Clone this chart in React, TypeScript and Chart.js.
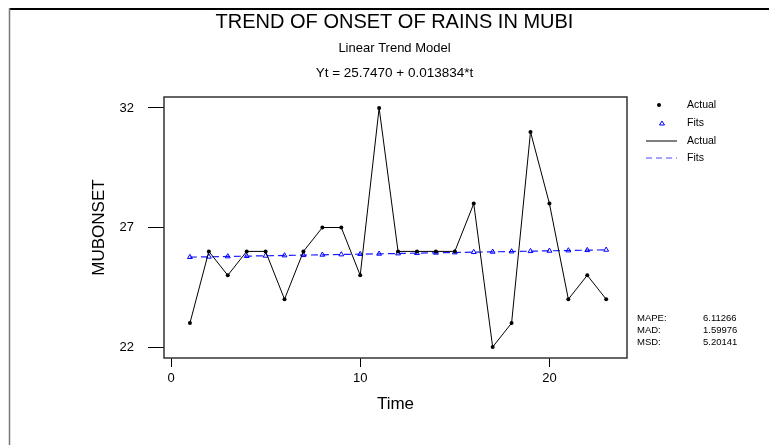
import React, { useEffect, useRef } from "react";
import { Chart, registerables } from "chart.js";

Chart.register(...registerables);

const timeIndex = [1, 2, 3, 4, 5, 6, 7, 8, 9, 10, 11, 12, 13, 14, 15, 16, 17, 18, 19, 20, 21, 22, 23];
const actualOnset = [23, 26, 25, 26, 26, 24, 26, 27, 27, 25, 32, 26, 26, 26, 26, 28, 22, 23, 31, 28, 24, 25, 24];
const fitsOnset = [
  25.7608, 25.7747, 25.7885, 25.8023, 25.8162, 25.83, 25.8438, 25.8577, 25.8715, 25.8853, 25.8992,
  25.913, 25.9268, 25.9407, 25.9545, 25.9683, 25.9822, 25.996, 26.0098, 26.0237, 26.0375, 26.0513, 26.0652,
];
const xTicks = [0, 10, 20];
const yTicks = [22, 27, 32];
const titleText = "TREND OF ONSET OF RAINS IN MUBI";
const subtitleText = "Linear Trend Model";
const equationText = "Yt = 25.7470 + 0.013834*t";
const xTitle = "Time";
const yTitle = "MUBONSET";
const accuracyLabels = ["MAPE:", "MAD:", "MSD:"];
const accuracyValues = ["6.11266", "1.59976", "5.20141"];

const FONT = "'Liberation Sans', Arial, Helvetica, sans-serif";

const decor = {
  id: "decor",
  beforeDraw(chart: any) {
    const ctx = chart.ctx;
    ctx.save();
    ctx.fillStyle = "#fff";
    ctx.fillRect(0, 0, chart.width, chart.height);
    ctx.restore();
  },
  afterDraw(chart: any) {
    const ctx = chart.ctx;
    const a = chart.chartArea;
    ctx.save();
    // outer border
    ctx.strokeStyle = "#000";
    ctx.lineWidth = 2;
    ctx.beginPath();
    ctx.moveTo(9, 9);
    ctx.lineTo(chart.width, 9);
    ctx.stroke();
    ctx.strokeStyle = "#777";
    ctx.lineWidth = 1.5;
    ctx.beginPath();
    ctx.moveTo(9.5, 8);
    ctx.lineTo(9.5, chart.height);
    ctx.stroke();

    // frame
    ctx.strokeStyle = "#333";
    ctx.lineWidth = 1.5;
    ctx.strokeRect(a.left, a.top, a.right - a.left, a.bottom - a.top);

    const cx = (a.left + a.right) / 2 - 1;
    ctx.fillStyle = "#000";
    ctx.textAlign = "center";
    ctx.textBaseline = "alphabetic";
    ctx.font = `20px ${FONT}`;
    ctx.fillText(titleText, cx, 28);
    ctx.font = `13px ${FONT}`;
    ctx.fillText(subtitleText, cx, 52);
    ctx.font = `13.5px ${FONT}`;
    ctx.fillText(equationText, cx, 77);

    // axis titles
    ctx.font = `17px ${FONT}`;
    ctx.textBaseline = "middle";
    ctx.fillText(xTitle, cx + 1, 404);
    ctx.save();
    ctx.translate(99, (a.top + a.bottom) / 2);
    ctx.rotate(-Math.PI / 2);
    ctx.fillText(yTitle, 0, 0);
    ctx.restore();

    // legend
    ctx.textAlign = "left";
    ctx.font = `10.5px ${FONT}`;
    ctx.fillStyle = "#000";
    ctx.beginPath();
    ctx.arc(659, 105, 2, 0, Math.PI * 2);
    ctx.fill();
    ctx.fillText("Actual", 687, 105);
    ctx.strokeStyle = "#0000ff";
    ctx.lineWidth = 1;
    ctx.beginPath();
    ctx.moveTo(662, 121);
    ctx.lineTo(664.5, 125);
    ctx.lineTo(659.5, 125);
    ctx.closePath();
    ctx.stroke();
    ctx.fillText("Fits", 687, 123);
    ctx.strokeStyle = "#000";
    ctx.beginPath();
    ctx.moveTo(646, 141);
    ctx.lineTo(677, 141);
    ctx.stroke();
    ctx.fillText("Actual", 687, 141);
    ctx.strokeStyle = "#4a4aff";
    ctx.setLineDash([6, 4]);
    ctx.beginPath();
    ctx.moveTo(646, 158);
    ctx.lineTo(677, 158);
    ctx.stroke();
    ctx.setLineDash([]);
    ctx.fillText("Fits", 687, 158);

    // accuracy measures
    ctx.font = `9.5px ${FONT}`;
    accuracyLabels.forEach((lab, i) => {
      const y = 318 + i * 12;
      ctx.fillText(lab, 637, y);
      ctx.fillText(accuracyValues[i], 703, y);
    });
    ctx.restore();
  },
};

export default function App() {
  const ref = useRef<HTMLCanvasElement>(null);
  useEffect(() => {
    if (!ref.current) return;
    const chart = new Chart(ref.current, {
      type: "line",
      data: {
        datasets: [
          {
            label: "Actual",
            data: timeIndex.map((t, i) => ({ x: t, y: actualOnset[i] })),
            borderColor: "#000",
            backgroundColor: "#000",
            borderWidth: 1,
            pointStyle: "circle",
            pointRadius: 2,
            pointBorderWidth: 0,
            tension: 0,
          },
          {
            label: "Fits",
            data: timeIndex.map((t, i) => ({ x: t, y: fitsOnset[i] })),
            borderColor: "#1a1aff",
            backgroundColor: "rgba(0,0,0,0)",
            borderWidth: 1.2,
            borderDash: [7, 4],
            pointStyle: "triangle",
            pointRadius: 2.8,
            pointBorderColor: "#0000ff",
            pointBorderWidth: 1,
            tension: 0,
          },
        ],
      },
      options: {
        responsive: false,
        animation: false,
        devicePixelRatio: 1,
        layout: { padding: { top: 97, right: 142, left: 0, bottom: 0 } },
        plugins: { legend: { display: false }, title: { display: false }, tooltip: { enabled: false } },
        scales: {
          x: {
            type: "linear",
            min: -0.37,
            max: 24.1,
            afterBuildTicks: (s: any) => {
              s.ticks = xTicks.map((v) => ({ value: v }));
            },
            afterFit: (s: any) => {
              s.height = 87;
            },
            grid: { drawOnChartArea: false, drawTicks: true, tickLength: 9, color: "#000", lineWidth: 1 },
            border: { display: false },
            ticks: { color: "#000", font: { family: FONT, size: 13 }, padding: 4, maxRotation: 0, callback: (v: any) => String(v) },
          },
          y: {
            type: "linear",
            min: 21.54,
            max: 32.46,
            afterBuildTicks: (s: any) => {
              s.ticks = yTicks.map((v) => ({ value: v }));
            },
            afterFit: (s: any) => {
              s.width = 164;
            },
            grid: { drawOnChartArea: false, drawTicks: true, tickLength: 16, color: "#000", lineWidth: 1 },
            border: { display: false },
            ticks: { color: "#000", font: { family: FONT, size: 13 }, padding: 14, callback: (v: any) => String(v) },
          },
        },
      },
      plugins: [decor],
    });
    return () => chart.destroy();
  }, []);
  return (
    <div style={{ position: "fixed", left: 0, top: 0, width: 769, height: 445, background: "#fff" }}>
      <canvas ref={ref} width={769} height={445} style={{ display: "block" }} />
    </div>
  );
}
